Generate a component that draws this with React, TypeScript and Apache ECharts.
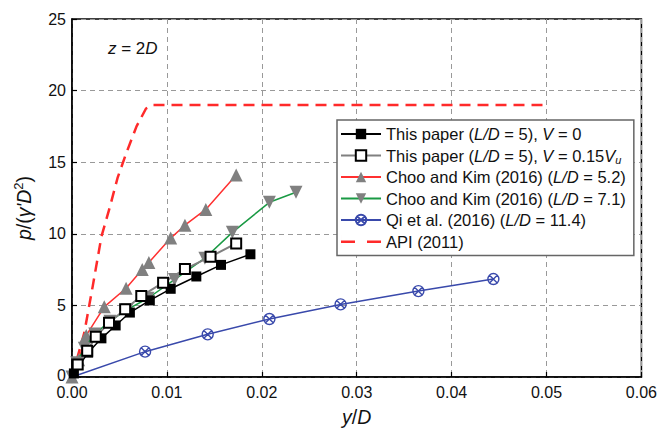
import React, { useEffect, useRef } from 'react';
import * as echarts from 'echarts';

const FONT = '"Liberation Sans", Arial, sans-serif';

// This paper (L/D = 5), V = 0
const tp0X = [0.0002, 0.0017, 0.0031, 0.0046, 0.0061, 0.0082, 0.0104, 0.0131, 0.0157, 0.0188];
const tp0Y = [0.25, 1.7, 2.7, 3.6, 4.5, 5.35, 6.16, 7.02, 7.83, 8.57];
// This paper (L/D = 5), V = 0.15Vu
const tp15X = [0.0006, 0.0016, 0.0025, 0.0039, 0.0056, 0.0073, 0.0096, 0.0119, 0.0146, 0.0173];
const tp15Y = [0.88, 1.84, 2.81, 3.79, 4.73, 5.65, 6.59, 7.54, 8.4, 9.33];
// Choo and Kim (2016) (L/D = 5.2)
const choo52X = [0, 0.0007, 0.0015, 0.0034, 0.0057, 0.0074, 0.0081, 0.0104, 0.0119, 0.0141, 0.0173];
const choo52Y = [0, 1.2, 2.9, 4.9, 6.2, 7.5, 8.0, 9.7, 10.6, 11.7, 14.1];
// Choo and Kim (2016) (L/D = 7.1)
const choo71X = [0, 0.0005, 0.0013, 0.0024, 0.004, 0.0058, 0.008, 0.0108, 0.014, 0.0169, 0.0208, 0.0236];
const choo71Y = [0, 1.0, 2.0, 3.0, 3.9, 4.7, 5.5, 6.8, 8.3, 10.1, 12.2, 12.9];
// Qi et al. (2016) (L/D = 11.4)
const qiX = [0, 0.0077, 0.0143, 0.0208, 0.0283, 0.0365, 0.0444];
const qiY = [0, 1.77, 2.98, 4.05, 5.07, 6.0, 6.84];
// API (2011)
const apiX = [0, 0.0013, 0.0022, 0.0031, 0.004, 0.0048, 0.0057, 0.0068, 0.0078, 0.0085, 0.05];
const apiY = [0, 3.1, 6.4, 9.8, 11.9, 13.9, 15.6, 17.5, 18.75, 19, 19];

const seriesNames = ['tp0', 'tp15', 'choo52', 'choo71', 'qi', 'api'];
const legendLabels: Record<string, string> = {
  tp0: 'This paper ({i|L/D} = 5), {i|V} = 0',
  tp15: 'This paper ({i|L/D} = 5), {i|V} = 0.15{i|V}{sub|u}',
  choo52: 'Choo and Kim (2016) ({i|L/D} = 5.2)',
  choo71: 'Choo and Kim (2016) ({i|L/D} = 7.1)',
  qi: 'Qi et al. (2016) ({i|L/D} = 11.4)',
  api: 'API (2011)',
};

const zip = (xs: number[], ys: number[]) => xs.map((x, i) => [x, ys[i]]);

const QI_SYMBOL = 'path://M0,10 A10,10 0 1,1 20,10 A10,10 0 1,1 0,10 Z M3,3 L17,17 M17,3 L3,17';
const API_ICON = 'path://M0,5.5 H14 V8 H0 Z M26,5.5 H40 V8 H26 Z M0,0 H0.01 V13 H0 Z';

export default function App() {
  const ref = useRef<HTMLDivElement>(null);
  useEffect(() => {
    if (!ref.current) return;
    const chart = echarts.init(ref.current, null, { renderer: 'svg' });
    const rich = {
      i: { fontStyle: 'italic', fontSize: 16.5, fontFamily: FONT, color: '#111', lineHeight: 20 },
      sub: { fontStyle: 'italic', fontSize: 11, fontFamily: FONT, color: '#111', verticalAlign: 'bottom', lineHeight: 12 },
      sup: { fontSize: 11, fontFamily: FONT, color: '#111', verticalAlign: 'top', lineHeight: 12 },
    };
    const titleRich = {
      i: { fontStyle: 'italic', fontSize: 19.5, fontFamily: FONT, color: '#111', lineHeight: 24 },
      sup: { fontSize: 13, fontFamily: FONT, color: '#111', verticalAlign: 'top', lineHeight: 13 },
    };
    const zRich = {
      i: { fontStyle: 'italic', fontSize: 17, fontFamily: FONT, color: '#111', lineHeight: 22 },
    };
    const option: any = {
      animation: false,
      backgroundColor: '#fff',
      grid: { left: 72, right: 18, top: 19, bottom: 60, show: true, borderColor: '#000', borderWidth: 1.5, backgroundColor: 'transparent' },
      xAxis: {
        type: 'value', min: 0, max: 0.06, interval: 0.01,
        name: '{i|y}/{i|D}', nameLocation: 'middle', nameGap: 24,
        nameTextStyle: { fontSize: 19.5, fontFamily: FONT, color: '#111', lineHeight: 24, rich: titleRich },
        axisLine: { show: true, lineStyle: { color: '#000', width: 1.5 } },
        axisTick: { show: true, inside: true, length: 5, lineStyle: { color: '#000', width: 1.2 } },
        axisLabel: { fontSize: 16, fontFamily: FONT, color: '#111', margin: 8, lineHeight: 14, formatter: (v: number) => v.toFixed(2) },
        splitLine: { show: true, lineStyle: { color: '#999', width: 1, type: [5, 4] } },
      },
      yAxis: {
        type: 'value', min: 0, max: 25, interval: 5,
        name: '{i|p}/({i|γ\'D}{sup|2})', nameLocation: 'middle', nameGap: 36,
        nameTextStyle: { fontSize: 19.5, fontFamily: FONT, color: '#111', lineHeight: 24, rich: titleRich, padding: [0, 20, 0, 0] },
        axisLine: { show: true, lineStyle: { color: '#000', width: 1.5 } },
        axisTick: { show: true, inside: true, length: 5, lineStyle: { color: '#000', width: 1.2 } },
        axisLabel: {
          fontSize: 16, fontFamily: FONT, color: '#111', margin: 6, lineHeight: 14,
          formatter: (v: number) => (v === 0 ? '{z|0}' : String(v)),
          rich: { z: { fontSize: 16, fontFamily: FONT, color: '#111', lineHeight: 14, padding: [0, 0, 3, 0] } },
        },
        splitLine: { show: true, lineStyle: { color: '#999', width: 1, type: [5, 4] } },
      },
      legend: {
        data: [
          'tp0', 'tp15', 'choo52', 'choo71', 'qi',
          { name: 'api', icon: API_ICON, itemStyle: { color: '#ff2a2a', opacity: 1 } },
        ],
        orient: 'vertical', left: 337, top: 120,
        itemWidth: 40, itemHeight: 13, itemGap: 1.5,
        padding: [4, 8, 4, 3],
        borderColor: '#666', borderWidth: 1.5, backgroundColor: '#fff',
        formatter: (name: string) => legendLabels[name],
        textStyle: { fontSize: 16.5, fontFamily: FONT, color: '#111', lineHeight: 20, rich },
      },
      graphic: [
        {
          type: 'text', left: 108, top: 40,
          style: { text: '{i|z} = 2{i|D}', fontSize: 17, fontFamily: FONT, fill: '#111', rich: zRich },
        },
      ],
      series: [
        {
          name: 'api', type: 'line', data: zip(apiX, apiY), symbol: 'circle', symbolSize: 1, showSymbol: false,
          lineStyle: { color: '#ff2a2a', width: 2.5, type: [11, 7] }, itemStyle: { color: '#ff2a2a', opacity: 0 }, z: 2,
        },
        {
          name: 'qi', type: 'line', data: zip(qiX, qiY).map((d, i) => (i === 0 ? { value: d, symbol: 'none' } : d)),
          symbol: QI_SYMBOL, symbolSize: 11,
          lineStyle: { color: '#3949ab', width: 1.5 }, itemStyle: { color: 'rgba(255,255,255,0)', borderColor: '#3949ab', borderWidth: 1.4 }, z: 3,
        },
        {
          name: 'choo52', type: 'line', data: zip(choo52X, choo52Y), symbol: 'triangle', symbolSize: 13,
          lineStyle: { color: '#ff3030', width: 1.5 }, itemStyle: { color: '#808080' }, z: 4,
        },
        {
          name: 'choo71', type: 'line', data: zip(choo71X, choo71Y), symbol: 'triangle', symbolSize: 13, symbolRotate: 180,
          lineStyle: { color: '#1a9a44', width: 1.5 }, itemStyle: { color: '#808080' }, z: 5,
        },
        {
          name: 'tp0', type: 'line', data: zip(tp0X, tp0Y), symbol: 'rect', symbolSize: 10,
          lineStyle: { color: '#000', width: 1.5 }, itemStyle: { color: '#000' }, z: 6,
        },
        {
          name: 'tp15', type: 'line', data: zip(tp15X, tp15Y), symbol: 'rect', symbolSize: 10,
          lineStyle: { color: '#808080', width: 2 }, itemStyle: { color: '#fff', borderColor: '#000', borderWidth: 2 }, z: 7,
        },
      ],
    };
    chart.setOption(option);
    return () => chart.dispose();
  }, []);
  return <div ref={ref} style={{ position: 'fixed', left: 0, top: 0, width: 660, height: 437 }} />;
}
